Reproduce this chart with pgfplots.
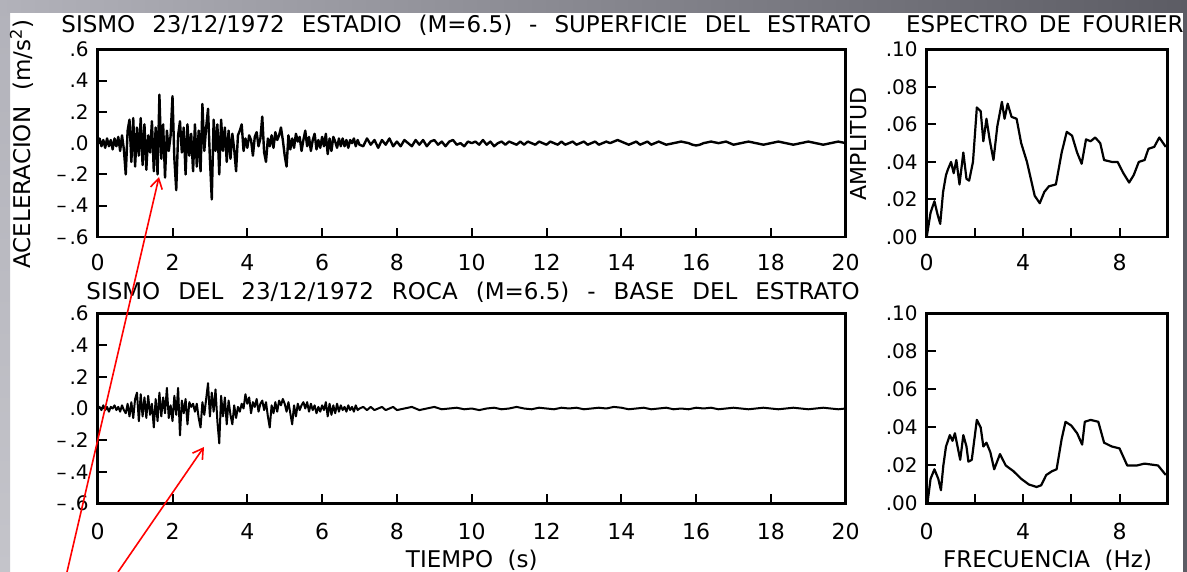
\documentclass[border=0pt]{standalone}
\usepackage{fontspec}
\setmainfont{DejaVu Sans}
\usepackage{pgfplots}
\pgfplotsset{compat=1.18}
\usetikzlibrary{arrows.meta}

\definecolor{bordA}{RGB}{178,178,186}
\definecolor{bordB}{RGB}{92,92,100}
\definecolor{bordC}{RGB}{196,196,202}

% titulos: espacios entre palabras mas anchos, como en la figura original
\newcommand\ttl[1]{\fontsize{11.5}{11.5}\selectfont\spaceskip=#1pt\relax}
\newcommand\mn{--\hspace{1.5pt}}

\pgfplotsset{
  seis/.style={
    scale only axis, anchor=south west,
    axis line style={line width=1.4pt},
    tick align=inside, xtick pos=left, ytick pos=left,
    major tick length=4.5pt,
    every tick/.style={line width=1pt, black},
    xticklabel style={font=\fontsize{11}{11}\selectfont, yshift=-5pt},
    yticklabel style={font=\fontsize{10}{10}\selectfont, xshift=-1pt},
    clip=true,
  },
  tiempo/.style={seis, xmin=0, xmax=20, ymin=-0.6, ymax=0.6,
    xtick={0,2,4,6,8,10,12,14,16,18,20},
    xticklabels={0,2,4,6,8,10,12,14,16,18,20},
    ytick={-0.6,-0.4,-0.2,0,0.2,0.4,0.6},
    yticklabels={\mn.6,\mn.4,\mn.2,.0,.2,.4,.6}},
  fourier/.style={seis, xmin=0, xmax=10, ymin=0, ymax=0.1,
    xtick={0,2,4,6,8}, xticklabels={0,,4,,8},
    ytick={0,0.02,0.04,0.06,0.08,0.1},
    yticklabels={.00,.02,.04,.06,.08,.10}},
}

\begin{document}
\begin{tikzpicture}
\path[use as bounding box] (0,0) rectangle (593.5pt,286pt);
\fill[white] (0,0) rectangle (593.5pt,286pt);
\shade[top color=bordA, bottom color=bordC] (0,0) rectangle (5pt,286pt);
\shade[left color=bordA, right color=bordB] (0,279.5pt) rectangle (593.5pt,286pt);
\fill[bordB] (591.5pt,0) rectangle (593.5pt,286pt);

% superficie - tiempo
\begin{axis}[tiempo, at={(48.85pt,167.5pt)}, width=374pt, height=93.85pt]
\addplot[black, line width=1.2pt, line join=round] table {
0.00 0.00
0.05 0.03
0.10 -0.02
0.15 0.02
0.20 -0.03
0.25 0.03
0.30 -0.02
0.35 0.02
0.40 -0.04
0.45 0.03
0.50 -0.02
0.55 0.04
0.60 -0.05
0.65 0.05
0.70 -0.04
0.75 -0.20
0.80 0.08
0.85 0.15
0.90 -0.12
0.95 0.16
1.00 -0.15
1.05 0.10
1.10 -0.08
1.15 0.16
1.20 -0.14
1.25 0.12
1.30 -0.17
1.35 0.05
1.40 -0.06
1.45 0.14
1.50 -0.18
1.55 0.10
1.60 -0.20
1.65 0.31
1.70 -0.10
1.75 0.12
1.80 -0.22
1.85 0.08
1.90 -0.05
1.95 0.05
2.00 0.30
2.05 -0.10
2.10 -0.30
2.15 0.05
2.20 0.14
2.25 -0.06
2.30 0.10
2.35 -0.20
2.40 0.12
2.45 -0.08
2.50 0.06
2.55 -0.18
2.60 0.12
2.65 -0.15
2.70 0.08
2.75 -0.18
2.80 0.25
2.85 -0.05
2.90 0.10
2.95 0.22
3.00 -0.10
3.05 -0.36
3.10 0.15
3.15 -0.05
3.20 0.12
3.25 -0.20
3.30 0.15
3.35 -0.05
3.40 0.10
3.45 -0.12
3.50 0.08
3.55 -0.10
3.60 0.06
3.65 -0.04
3.70 -0.18
3.75 0.05
3.80 0.08
3.85 0.12
3.90 -0.05
3.95 0.03
4.00 -0.03
4.05 0.05
4.10 0.02
4.15 -0.08
4.20 0.04
4.25 0.07
4.30 -0.02
4.35 0.03
4.40 0.17
4.45 -0.06
4.50 -0.12
4.55 0.03
4.60 -0.02
4.65 0.05
4.70 -0.03
4.75 0.07
4.80 0.02
4.85 0.05
4.90 0.10
4.95 0.02
5.00 -0.08
5.05 -0.15
5.10 0.05
5.15 -0.04
5.20 0.03
5.25 -0.03
5.30 0.06
5.35 0.01
5.40 0.04
5.45 -0.05
5.50 0.02
5.55 0.08
5.60 -0.02
5.65 0.04
5.70 -0.05
5.75 0.02
5.80 0.06
5.85 -0.04
5.90 0.02
5.95 -0.03
6.00 0.04
6.05 -0.02
6.10 0.06
6.15 -0.07
6.20 0.03
6.25 -0.05
6.30 0.04
6.35 0.01
6.40 -0.03
6.45 0.03
6.50 -0.02
6.55 0.03
6.60 -0.02
6.65 0.02
6.70 -0.03
6.75 0.02
6.80 0.00
6.85 0.03
6.90 -0.02
6.95 0.02
7.00 -0.01
7.10 -0.02
7.20 0.03
7.30 -0.01
7.40 0.02
7.50 -0.03
7.60 0.02
7.70 -0.01
7.80 0.03
7.90 -0.02
8.00 0.01
8.10 -0.02
8.20 0.02
8.30 0.00
8.40 -0.02
8.50 0.02
8.60 -0.01
8.70 0.02
8.80 -0.02
8.90 0.01
9.00 0.02
9.10 -0.01
9.20 0.01
9.30 -0.02
9.40 0.01
9.50 0.02
9.60 -0.01
9.70 0.00
9.80 -0.02
9.90 0.01
10.00 0.00
10.10 0.01
10.20 -0.01
10.30 0.02
10.40 -0.01
10.50 0.01
10.60 -0.02
10.70 0.00
10.80 0.01
10.90 -0.01
11.00 0.01
11.10 0.00
11.20 -0.01
11.30 0.01
11.40 -0.01
11.50 0.01
11.60 0.00
11.70 -0.01
11.80 0.01
11.90 0.00
12.00 -0.01
12.10 0.01
12.20 0.00
12.30 -0.01
12.40 0.01
12.50 -0.01
12.60 0.00
12.70 0.01
12.80 -0.01
12.90 0.00
13.00 0.01
13.10 -0.01
13.20 0.00
13.30 0.01
13.40 -0.01
13.50 0.00
13.60 0.01
13.70 0.00
13.80 0.01
13.90 0.02
14.00 0.01
14.10 0.00
14.20 -0.01
14.30 0.00
14.40 0.01
14.50 -0.01
14.60 0.00
14.70 0.01
14.80 -0.01
14.90 0.00
15.00 0.01
15.20 -0.01
15.40 0.00
15.60 0.01
15.80 0.00
15.90 -0.01
16.00 -0.015
16.10 -0.01
16.20 0.00
16.40 0.01
16.60 0.00
16.80 0.01
17.00 -0.01
17.20 0.00
17.40 0.01
17.60 0.00
17.80 -0.01
18.00 0.00
18.20 0.01
18.40 0.00
18.60 -0.01
18.80 0.00
19.00 0.01
19.20 0.00
19.40 -0.01
19.60 0.00
19.80 0.01
20.00 0.00
};
\end{axis}

% superficie - espectro
\begin{axis}[fourier, at={(463.35pt,167.5pt)}, width=120.5pt, height=93.85pt]
\addplot[black, line width=1.1pt, line join=round] table {
0.00 0.000
0.16 0.013
0.32 0.019
0.45 0.012
0.56 0.007
0.68 0.024
0.80 0.033
0.88 0.036
1.01 0.040
1.12 0.034
1.23 0.041
1.36 0.028
1.52 0.045
1.65 0.031
1.76 0.030
1.92 0.040
2.08 0.069
2.24 0.067
2.35 0.051
2.48 0.063
2.61 0.052
2.77 0.041
2.93 0.059
3.12 0.072
3.23 0.063
3.36 0.071
3.52 0.064
3.73 0.063
3.92 0.050
4.16 0.040
4.32 0.031
4.48 0.022
4.69 0.018
4.88 0.024
5.07 0.027
5.36 0.028
5.60 0.045
5.81 0.056
6.03 0.054
6.24 0.045
6.43 0.039
6.61 0.052
6.80 0.051
6.99 0.053
7.20 0.050
7.36 0.041
7.68 0.040
7.92 0.040
8.16 0.034
8.40 0.029
8.59 0.033
8.80 0.040
9.04 0.041
9.20 0.047
9.44 0.048
9.65 0.053
9.92 0.048
};
\end{axis}

% roca - tiempo
\begin{axis}[tiempo, at={(48.85pt,34.25pt)}, width=374pt, height=95pt,
  xticklabel style={yshift=-1.5pt}]
\addplot[black, line width=1.0pt, line join=round] table {
0.00 0.00
0.05 0.01
0.10 -0.01
0.15 0.02
0.20 -0.01
0.25 0.01
0.30 -0.02
0.35 0.01
0.40 0.00
0.45 0.02
0.50 -0.01
0.55 0.01
0.60 -0.02
0.65 0.02
0.70 -0.01
0.75 -0.03
0.80 0.03
0.85 -0.05
0.90 0.04
0.95 -0.06
1.00 0.06
1.05 0.10
1.10 -0.08
1.15 0.09
1.20 -0.05
1.25 0.07
1.30 -0.06
1.35 0.08
1.40 -0.04
1.45 0.03
1.50 -0.12
1.55 0.06
1.60 -0.08
1.65 0.10
1.70 -0.05
1.75 0.07
1.80 -0.03
1.85 0.13
1.90 -0.06
1.95 0.02
2.00 -0.08
2.05 0.08
2.10 -0.04
2.15 0.13
2.20 -0.17
2.25 0.05
2.30 -0.03
2.35 0.06
2.40 -0.10
2.45 0.04
2.50 0.01
2.55 0.03
2.60 -0.02
2.65 0.03
2.70 -0.06
2.75 -0.12
2.80 0.04
2.85 -0.04
2.90 0.06
2.95 0.16
3.00 -0.05
3.05 0.10
3.10 -0.02
3.15 0.12
3.20 -0.08
3.25 -0.22
3.30 0.08
3.35 -0.05
3.40 0.07
3.45 -0.10
3.50 0.05
3.55 -0.04
3.60 -0.10
3.65 0.02
3.70 -0.06
3.75 0.01
3.80 -0.02
3.85 0.03
3.90 0.00
3.95 0.09
4.00 0.03
4.05 0.07
4.10 -0.03
4.15 0.04
4.20 0.01
4.25 0.06
4.30 -0.02
4.35 0.03
4.40 0.05
4.45 -0.01
4.50 0.04
4.55 -0.05
4.60 -0.12
4.65 0.02
4.70 -0.03
4.75 0.04
4.80 -0.02
4.85 0.05
4.90 0.02
4.95 0.06
5.00 0.03
5.05 -0.02
5.10 0.04
5.15 -0.03
5.20 -0.10
5.25 0.02
5.30 -0.05
5.35 0.03
5.40 -0.01
5.45 0.02
5.50 0.04
5.55 0.00
5.60 0.04
5.65 -0.02
5.70 0.03
5.75 -0.01
5.80 0.02
5.85 -0.03
5.90 0.01
5.95 -0.02
6.00 0.02
6.05 -0.01
6.10 0.04
6.15 -0.05
6.20 0.03
6.25 -0.04
6.30 0.02
6.35 -0.03
6.40 0.03
6.45 -0.02
6.50 0.02
6.55 -0.01
6.60 0.01
6.65 -0.02
6.70 0.02
6.75 -0.01
6.80 0.01
6.85 -0.02
6.90 0.02
6.95 -0.01
7.00 0.00
7.10 0.01
7.20 -0.01
7.30 0.01
7.40 -0.01
7.50 0.00
7.60 0.01
7.70 -0.01
7.80 0.00
7.90 0.01
8.00 -0.01
8.20 0.00
8.40 0.01
8.60 -0.01
8.80 0.00
9.00 0.01
9.20 -0.005
9.40 0.00
9.60 0.005
9.80 -0.005
10.00 0.00
10.20 -0.01
10.40 0.00
10.60 0.005
10.80 -0.005
11.00 0.00
11.20 0.01
11.40 0.00
11.60 -0.005
11.80 0.005
12.00 0.00
12.20 -0.005
12.40 0.005
12.60 0.00
12.80 0.005
13.00 -0.005
13.20 0.00
13.40 0.005
13.60 0.00
13.80 0.01
14.00 0.005
14.20 -0.005
14.40 0.00
14.60 0.005
14.80 -0.005
15.00 0.00
15.20 0.005
15.40 -0.005
15.60 0.00
15.80 -0.005
16.00 0.005
16.20 0.00
16.40 0.005
16.60 -0.005
16.80 0.00
17.00 0.005
17.20 0.00
17.40 -0.005
17.60 0.00
17.80 0.005
18.00 0.00
18.20 -0.005
18.40 0.00
18.60 0.005
18.80 0.00
19.00 -0.005
19.20 0.00
19.40 0.005
19.60 0.00
19.80 -0.005
20.00 0.00
};
\end{axis}

% roca - espectro
\begin{axis}[fourier, at={(463.35pt,34.25pt)}, width=120.5pt, height=95pt,
  xticklabel style={yshift=-1.5pt}]
\addplot[black, line width=1.1pt, line join=round] table {
0.03 0.000
0.16 0.013
0.32 0.018
0.48 0.013
0.59 0.007
0.69 0.020
0.80 0.030
0.96 0.036
1.07 0.033
1.17 0.037
1.28 0.030
1.39 0.023
1.52 0.036
1.65 0.030
1.73 0.022
1.87 0.023
2.08 0.044
2.24 0.040
2.35 0.030
2.48 0.032
2.64 0.027
2.80 0.018
3.04 0.026
3.28 0.020
3.60 0.017
3.92 0.013
4.24 0.010
4.56 0.0087
4.75 0.0096
4.96 0.015
5.20 0.017
5.39 0.018
5.60 0.034
5.76 0.043
6.00 0.041
6.24 0.037
6.45 0.031
6.56 0.043
6.80 0.044
7.12 0.043
7.36 0.032
7.68 0.030
8.00 0.029
8.32 0.020
8.72 0.020
9.04 0.021
9.60 0.020
9.92 0.015
};
\end{axis}

% titulos y etiquetas
\node[anchor=base west, inner sep=0pt, font={\ttl{8.5}}] at (30.5pt,269.6pt)
  {SISMO 23/12/1972 ESTADIO (M=6.5) - SUPERFICIE DEL ESTRATO};
\node[anchor=base east, inner sep=0pt, font={\ttl{5.5}}] at (592pt,269.6pt)
  {ESPECTRO DE FOURIER};
\node[anchor=base west, inner sep=0pt, font={\ttl{9}}] at (43pt,136pt)
  {SISMO DEL 23/12/1972 ROCA (M=6.5) - BASE DEL ESTRATO};
\node[anchor=base, rotate=90, inner sep=0pt, font={\ttl{8}}] at (15.3pt,214pt)
  {ACELERACION (m/s\textsuperscript{2})};
\node[anchor=base, rotate=90, inner sep=0pt, font=\fontsize{11}{11}\selectfont] at (433.2pt,214pt)
  {AMPLITUD};
\node[anchor=base, inner sep=0pt, font={\ttl{7.3}}] at (235.9pt,2pt)
  {TIEMPO (s)};
\node[anchor=base, inner sep=0pt, font={\ttl{7.3}}] at (523.8pt,2pt)
  {FRECUENCIA (Hz)};

% flechas
\draw[red, line width=0.8pt, -{Straight Barb[length=5pt,width=6pt]}] (33.5pt,0pt) -- (79.5pt,197.5pt);
\draw[red, line width=0.8pt, -{Straight Barb[length=5pt,width=6pt]}] (59pt,0pt) -- (102pt,62.5pt);
\end{tikzpicture}
\end{document}
